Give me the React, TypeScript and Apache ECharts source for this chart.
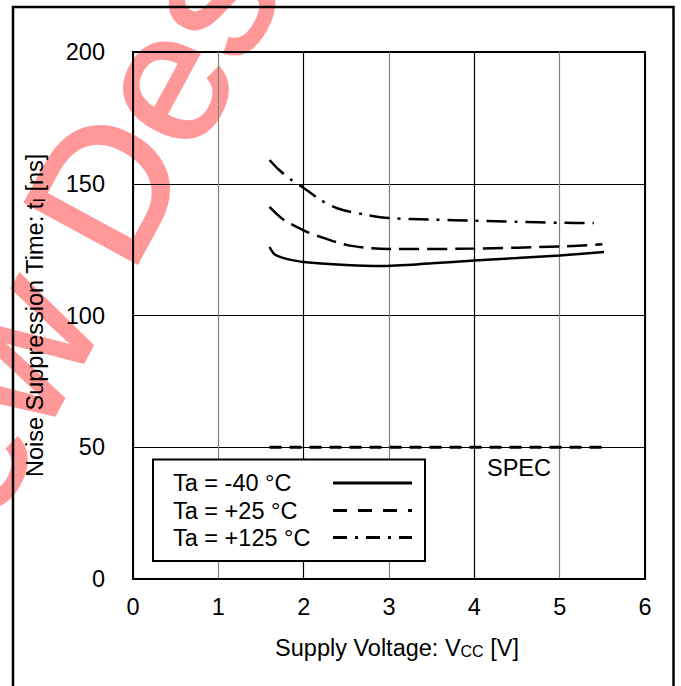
import React, { useEffect, useRef } from 'react';
import * as echarts from 'echarts';

// Supply voltage (V) sample points and noise suppression time (ns)
const voltM40 = [1.6, 1.65, 1.7, 1.8, 2.0, 2.5, 2.9, 3.5, 4.0, 4.5, 5.0, 5.52];
const timeM40 = [126, 123.5, 122.5, 121.5, 120.3, 119.2, 118.8, 119.8, 120.9, 121.8, 122.8, 124.1];

const voltP25 = [1.6, 1.75, 2.0, 2.2, 2.5, 2.8, 3.0, 4.0, 5.0, 5.5];
const timeP25 = [141.2, 136.7, 132.3, 129.8, 126.8, 125.5, 125.2, 125.4, 126.2, 127.0];

const voltP125 = [1.6, 1.7, 1.85, 2.0, 2.2, 2.4, 2.7, 3.0, 3.5, 4.0, 4.5, 5.0, 5.4];
const timeP125 = [159.0, 155.6, 151.6, 148.4, 143.8, 140.6, 138.4, 137.0, 136.4, 136.0, 135.6, 135.2, 135.1];

const voltSpec = [1.6, 5.52];
const timeSpec = [50, 50];

const legendLabels = ['Ta = -40 °C', 'Ta = +25 °C', 'Ta = +125 °C'];
const specLabel = 'SPEC';
const watermark = 'New Designs';

const FONT = 'Liberation Sans, Arial, sans-serif';
const FS = 23.5;

export default function App() {
  const ref = useRef<HTMLDivElement>(null);

  useEffect(() => {
    if (!ref.current) return;
    const chart = echarts.init(ref.current, undefined, { renderer: 'svg' });
    const zip = (xs: number[], ys: number[]) => xs.map((x, i) => [x, ys[i]]);
    const rot = (61.5 * Math.PI) / 180;

    const legendY = [483, 510.5, 537.5];
    const legendDash: (number[] | null)[] = [null, [14, 11], [14, 8, 3, 8]];

    const graphic: any[] = [
      // watermark (beneath the chart)
      {
        type: 'text',
        x: -71 - 64 * Math.sin(rot),
        y: 646.6 - 64 * Math.cos(rot),
        rotation: rot,
        z: -10,
        silent: true,
        style: {
          text: watermark,
          font: `185px ${FONT}`,
          fill: '#ff9999',
          stroke: '#ff9999',
          lineWidth: 3,
          textAlign: 'left',
          textVerticalAlign: 'middle',
        },
      },
      // outer frame
      {
        type: 'rect',
        shape: { x: 13, y: 7, width: 660.5, height: 700 },
        style: { fill: 'none', stroke: '#000', lineWidth: 2.5 },
        z: 50,
      },
      // legend box
      {
        type: 'rect',
        shape: { x: 153, y: 459.5, width: 272, height: 101.5 },
        style: { fill: '#fff', stroke: '#000', lineWidth: 2 },
        z: 60,
      },
      ...legendLabels.map((t, i) => ({
        type: 'text',
        x: 173,
        y: legendY[i],
        z: 61,
        style: {
          text: t,
          font: `${FS}px ${FONT}`,
          fill: '#000',
          textAlign: 'left',
          textVerticalAlign: 'middle',
        },
      })),
      ...legendLabels.map((_, i) => ({
        type: 'line',
        z: 61,
        shape: { x1: 333, y1: legendY[i], x2: 412, y2: legendY[i] },
        style: {
          stroke: '#000',
          lineWidth: 3,
          lineDash: legendDash[i] || undefined,
        },
      })),
      {
        type: 'text',
        x: 519,
        y: 468,
        z: 61,
        style: {
          text: specLabel,
          font: `${FS}px ${FONT}`,
          fill: '#000',
          textAlign: 'center',
          textVerticalAlign: 'middle',
        },
      },
    ];

    const nameRich = {
      a: { fontSize: FS, color: '#000', fontFamily: FONT, lineHeight: FS },
      s: { fontSize: 16, color: '#000', fontFamily: FONT, lineHeight: 12, verticalAlign: 'bottom' },
    };

    chart.setOption({
      animation: false,
      backgroundColor: '#fff',
      textStyle: { fontFamily: FONT },
      grid: {
        left: 133,
        top: 52,
        width: 512,
        height: 527,
        show: true,
        borderColor: '#000',
        borderWidth: 2,
        backgroundColor: 'transparent',
      },
      xAxis: {
        type: 'value',
        min: 0,
        max: 6,
        interval: 1,
        axisLine: { show: true, lineStyle: { color: '#000', width: 2 } },
        axisTick: { show: false },
        axisLabel: { fontSize: FS, color: '#000', margin: 16, fontFamily: FONT },
        splitLine: { show: true, lineStyle: { color: ['#000', '#808080'], width: 1.2 } },
        name: '{a|Supply Voltage: V}{s|CC}{a| [V]}',
        nameLocation: 'middle',
        nameGap: 57,
        nameTextStyle: { color: '#000', fontFamily: FONT, rich: nameRich, padding: [0, 0, 0, 16] },
      },
      yAxis: {
        type: 'value',
        min: 0,
        max: 200,
        interval: 50,
        axisLine: { show: true, lineStyle: { color: '#000', width: 2 } },
        axisTick: { show: false },
        axisLabel: { fontSize: FS, color: '#000', margin: 28, fontFamily: FONT },
        splitLine: { show: true, lineStyle: { color: '#000', width: 1 } },
        name: '{a|Noise Suppression Time: t}{s|I}{a| [ns]}',
        nameLocation: 'middle',
        nameGap: 86,
        nameTextStyle: { color: '#000', fontFamily: FONT, rich: nameRich },
      },
      series: [
        {
          name: legendLabels[0],
          type: 'line',
          data: zip(voltM40, timeM40),
          smooth: 0.3,
          showSymbol: false,
          lineStyle: { color: '#000', width: 2.5, type: 'solid' },
          z: 10,
        },
        {
          name: legendLabels[1],
          type: 'line',
          data: zip(voltP25, timeP25),
          smooth: 0.3,
          showSymbol: false,
          lineStyle: { color: '#000', width: 2.5, type: [20, 8] },
          z: 10,
        },
        {
          name: legendLabels[2],
          type: 'line',
          data: zip(voltP125, timeP125),
          smooth: 0.3,
          showSymbol: false,
          lineStyle: { color: '#000', width: 2.5, type: [20, 8, 3, 8] },
          z: 10,
        },
        {
          name: specLabel,
          type: 'line',
          data: zip(voltSpec, timeSpec),
          showSymbol: false,
          lineStyle: { color: '#000', width: 3, type: [12, 8] },
          z: 10,
        },
      ],
      graphic,
    });

    return () => chart.dispose();
  }, []);

  return (
    <div
      ref={ref}
      style={{ position: 'fixed', left: 0, top: 0, width: 681, height: 686 }}
    />
  );
}
